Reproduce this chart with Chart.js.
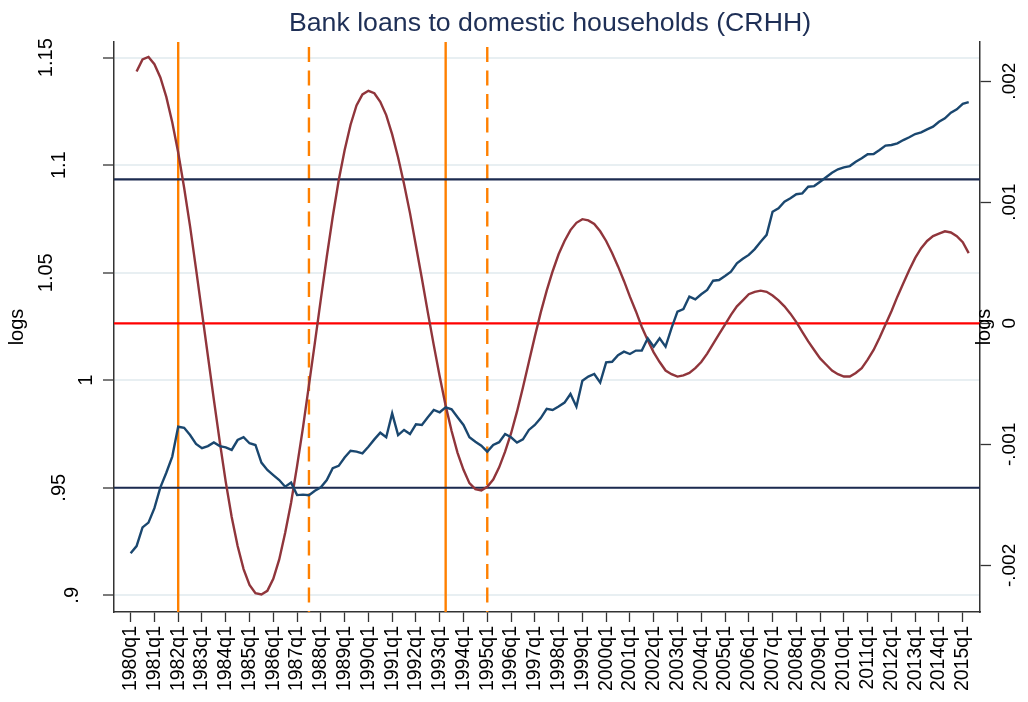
<!DOCTYPE html>
<html>
<head>
<meta charset="utf-8">
<title>Bank loans to domestic households (CRHH)</title>
<script src="https://cdn.jsdelivr.net/npm/chart.js@4.4.1/dist/chart.umd.min.js"></script>
<style>
  html, body { margin: 0; padding: 0; background: #fff; }
  canvas { display: block; }
</style>
</head>
<body>
<canvas id="loansChart" width="1028" height="702"></canvas>
<script>
const titleText = 'Bank loans to domestic households (CRHH)';
const axisTitle = 'logs';

// quarter names from 1980q1 to 2015q2
const quarters = [];
for (let y = 1980; y <= 2015; y++) {
  for (let q = 1; q <= 4; q++) {
    if (y === 2015 && q > 2) break;
    quarters.push(y + 'q' + q);
  }
}

// log level of bank loans, 1980q1 - 2015q2 (left axis)
const loansLog = [
  0.9195, 0.9229, 0.9316, 0.9338, 0.9405, 0.9502, 0.9570, 0.9645, 0.9784, 0.9779,
  0.9745, 0.9704, 0.9684, 0.9694, 0.9711, 0.9694, 0.9688, 0.9676, 0.9722, 0.9735,
  0.9707, 0.9699, 0.9617, 0.9583, 0.9559, 0.9536, 0.9505, 0.9524, 0.9466, 0.9468,
  0.9465, 0.9486, 0.9502, 0.9536, 0.9591, 0.9602, 0.9641, 0.9672, 0.9668, 0.9660,
  0.9691, 0.9725, 0.9756, 0.9735, 0.9846, 0.9745, 0.9769, 0.9750, 0.9795, 0.9792,
  0.9828, 0.9862, 0.9851, 0.9874, 0.9865, 0.9828, 0.9792, 0.9735, 0.9714, 0.9696,
  0.9668, 0.9699, 0.9712, 0.9750, 0.9735, 0.9710, 0.9725, 0.9769, 0.9792, 0.9824,
  0.9867, 0.9862, 0.9878, 0.9896, 0.9936, 0.9877, 0.9998, 1.0017, 1.0029, 0.9989,
  1.0083, 1.0086, 1.0117, 1.0133, 1.0122, 1.0138, 1.0138, 1.0195, 1.0156, 1.0195,
  1.0156, 1.0242, 1.0319, 1.0331, 1.0389, 1.0376, 1.0400, 1.0420, 1.0463, 1.0466,
  1.0485, 1.0505, 1.0544, 1.0565, 1.0583, 1.0610, 1.0644, 1.0676, 1.0784, 1.0800,
  1.0830, 1.0846, 1.0865, 1.0869, 1.0900, 1.0903, 1.0923, 1.0944, 1.0965, 1.0981,
  1.0990, 1.0996, 1.1016, 1.1032, 1.1051, 1.1052, 1.1071, 1.1091, 1.1094, 1.1102,
  1.1117, 1.1130, 1.1145, 1.1153, 1.1167, 1.1179, 1.1202, 1.1218, 1.1244, 1.1260,
  1.1285, 1.1293
];

// cyclical component, 1980q2 - 2015q2 (right axis)
const cycleStart = 1;
const loansCycle = [
  0.00208, 0.00218, 0.00220, 0.00214, 0.00203, 0.00187, 0.00166, 0.00141, 0.00112, 0.00080,
  0.00045, 0.00009, -0.00027, -0.00063, -0.00098, -0.00131, -0.00160, -0.00184, -0.00203, -0.00216,
  -0.00223, -0.00224, -0.00221, -0.00211, -0.00195, -0.00173, -0.00148, -0.00118, -0.00086, -0.00051,
  -0.00016, 0.00020, 0.00055, 0.00088, 0.00118, 0.00143, 0.00164, 0.00180, 0.00189, 0.00192,
  0.00190, 0.00183, 0.00172, 0.00156, 0.00137, 0.00115, 0.00091, 0.00064, 0.00037, 0.00009,
  -0.00018, -0.00044, -0.00068, -0.00089, -0.00107, -0.00121, -0.00132, -0.00137, -0.00138, -0.00135,
  -0.00129, -0.00119, -0.00106, -0.00091, -0.00073, -0.00053, -0.00032, -0.00011, 0.00009, 0.00027,
  0.00043, 0.00057, 0.00068, 0.00077, 0.00083, 0.00086, 0.00085, 0.00082, 0.00076, 0.00068,
  0.00058, 0.00047, 0.00035, 0.00022, 0.00010, -0.00003, -0.00014, -0.00024, -0.00032, -0.00039,
  -0.00042, -0.00044, -0.00043, -0.00041, -0.00037, -0.00032, -0.00025, -0.00017, -0.00009, -0.00001,
  0.00007, 0.00014, 0.00019, 0.00024, 0.00026, 0.00027, 0.00026, 0.00023, 0.00019, 0.00014,
  0.00008, 0.00001, -0.00007, -0.00015, -0.00022, -0.00029, -0.00034, -0.00039, -0.00042, -0.00044,
  -0.00044, -0.00041, -0.00037, -0.00030, -0.00022, -0.00012, -0.00001, 0.00010, 0.00022, 0.00033,
  0.00044, 0.00054, 0.00062, 0.00068, 0.00072, 0.00074, 0.00076, 0.00075, 0.00072, 0.00067,
  0.00058
];

// threshold lines (left axis) and zero line (right axis)
const bandLevels = [0.95, 1.0934];
const zeroLevel = 0;

// turning points
const solidMarks = ['1982q1', '1993q2'];
const dashedMarks = ['1987q3', '1995q1'];

// axis ticks
const leftTicks = [0.9, 0.95, 1, 1.05, 1.1, 1.15];
const leftTickLabels = ['.9', '.95', '1', '1.05', '1.1', '1.15'];
const rightTicks = [-0.002, -0.001, 0, 0.001, 0.002];
const rightTickLabels = ['-.002', '-.001', '0', '.001', '.002'];
const xTickQuarters = quarters.filter(q => q.endsWith('q1'));

const xMin = -2.8, xMax = 142.9;
const leftMin = 0.89223, leftMax = 1.1573;
const rightMin = -0.0023845, rightMax = 0.0023234;

const FONT = '"Liberation Sans", Arial, Helvetica, sans-serif';
const NAVY = '#1c2b50';
const ORANGE = '#ff8000';

function hLine(level, axis, color, width) {
  return {
    data: [{ x: xMin, y: level }, { x: xMax, y: level }],
    yAxisID: axis,
    borderColor: color,
    borderWidth: width,
    order: 5
  };
}

function vLine(q, dashed) {
  const i = quarters.indexOf(q);
  return {
    data: [{ x: i, y: leftMax }, { x: i, y: leftMin }],
    yAxisID: 'y',
    borderColor: ORANGE,
    borderWidth: 2.4,
    borderDash: dashed ? [15, 8.5] : [],
    borderDashOffset: dashed ? 18.5 : 0,
    order: 6
  };
}

const datasets = [
  {
    label: 'loans',
    data: loansLog.map((v, i) => ({ x: i, y: v })),
    yAxisID: 'y',
    borderColor: '#1a476f',
    borderWidth: 2.4,
    order: 1
  },
  {
    label: 'cycle',
    data: loansCycle.map((v, i) => ({ x: i + cycleStart, y: v })),
    yAxisID: 'y1',
    borderColor: '#90353b',
    borderWidth: 2.4,
    order: 2
  },
  ...bandLevels.map(l => hLine(l, 'y', NAVY, 2.2)),
  hLine(zeroLevel, 'y1', '#ff0000', 2.2),
  ...solidMarks.map(q => vLine(q, false)),
  ...dashedMarks.map(q => vLine(q, true))
];

// title, rotated y tick labels and axis titles
const frameText = {
  id: 'frameText',
  afterDraw(chart) {
    const { ctx, chartArea: area, scales } = chart;
    ctx.save();
    ctx.fillStyle = '#1e2f56';
    ctx.font = '26.7px ' + FONT;
    ctx.textAlign = 'center';
    ctx.textBaseline = 'alphabetic';
    ctx.fillText(titleText, (area.left + area.right) / 2 + 3, 31);

    const up = (text, x, y, size) => {
      ctx.save();
      ctx.translate(x, y);
      ctx.rotate(-Math.PI / 2);
      ctx.font = size + 'px ' + FONT;
      ctx.textAlign = 'center';
      ctx.textBaseline = 'alphabetic';
      ctx.fillStyle = '#000';
      ctx.fillText(text, 0, 0);
      ctx.restore();
    };

    leftTicks.forEach((v, i) => {
      const label = leftTickLabels[i];
      const cx = area.left - 16.4 - 13.2 * label.length;
      up(label, cx + 0.358 * 20, scales.y.getPixelForValue(v), 20);
    });
    rightTicks.forEach((v, i) => {
      up(rightTickLabels[i], area.right + 28.5 + 0.358 * 19, scales.y1.getPixelForValue(v), 19);
    });

    const midY = (area.top + area.bottom) / 2;
    up(axisTitle, 22.5, midY, 20);
    up(axisTitle, area.right + 9.7, midY, 20);
    ctx.restore();
  }
};

new Chart(document.getElementById('loansChart').getContext('2d'), {
  type: 'line',
  data: { datasets },
  options: {
    responsive: false,
    devicePixelRatio: 1,
    animation: false,
    layout: { padding: { top: 42, left: 0, right: 0, bottom: 0 } },
    elements: {
      point: { radius: 0 },
      line: { tension: 0, fill: false }
    },
    plugins: {
      legend: { display: false },
      title: { display: false },
      tooltip: { enabled: false }
    },
    scales: {
      x: {
        type: 'linear',
        min: xMin,
        max: xMax,
        afterBuildTicks: s => { s.ticks = xTickQuarters.map(q => ({ value: quarters.indexOf(q) })); },
        afterFit: s => { s.height = 90; },
        ticks: {
          autoSkip: false,
          minRotation: 90,
          maxRotation: 90,
          padding: 4,
          color: '#000',
          font: { family: FONT, size: 19.5 },
          callback: v => quarters[v]
        },
        grid: { drawOnChartArea: false, tickLength: 10, tickColor: '#333', tickWidth: 1.3 },
        border: { display: true, color: '#333', width: 1.5 }
      },
      y: {
        type: 'linear',
        position: 'left',
        min: leftMin,
        max: leftMax,
        afterBuildTicks: s => { s.ticks = leftTicks.map(v => ({ value: v })); },
        afterFit: s => { s.width = 114; },
        ticks: { display: false },
        grid: { color: '#e8eff2', lineWidth: 2, tickLength: 11, tickColor: '#333', tickWidth: 1.3 },
        border: { display: true, color: '#333', width: 1.5 }
      },
      y1: {
        type: 'linear',
        position: 'right',
        min: rightMin,
        max: rightMax,
        afterBuildTicks: s => { s.ticks = rightTicks.map(v => ({ value: v })); },
        afterFit: s => { s.width = 48; },
        ticks: { display: false },
        grid: { drawOnChartArea: false, tickLength: 11, tickColor: '#333', tickWidth: 1.3 },
        border: { display: true, color: '#333', width: 1.5 }
      }
    }
  },
  plugins: [frameText]
});
</script>
</body>
</html>
